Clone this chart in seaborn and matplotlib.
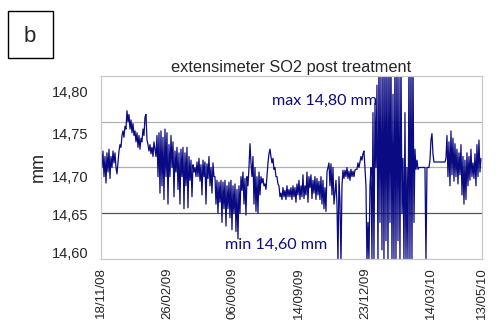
import numpy as np
import pandas as pd
import matplotlib.pyplot as plt
import matplotlib.patches as patches
import matplotlib.transforms as mtransforms
import seaborn as sns

# extensimeter readings (mm), one sample per step along the record
mm = [
    14.725, 14.700, 14.718, 14.690, 14.712, 14.683, 14.716, 14.695, 14.720, 14.688,
    14.712, 14.700, 14.718, 14.705, 14.716, 14.700, 14.693, 14.705, 14.718, 14.725,
    14.722, 14.735, 14.740, 14.733, 14.745, 14.742, 14.762, 14.750, 14.758, 14.742,
    14.752, 14.738, 14.748, 14.735, 14.740, 14.728, 14.738, 14.722, 14.735, 14.720,
    14.732, 14.728, 14.742, 14.735, 14.755, 14.758, 14.730, 14.725, 14.718, 14.725,
    14.715, 14.722, 14.712, 14.728, 14.720, 14.712, 14.735, 14.690, 14.738, 14.672,
    14.740, 14.680, 14.733, 14.665, 14.742, 14.690, 14.738, 14.660, 14.725, 14.690,
    14.735, 14.700, 14.728, 14.668, 14.718, 14.695, 14.722, 14.676, 14.716, 14.660,
    14.720, 14.690, 14.722, 14.655, 14.716, 14.680, 14.722, 14.656, 14.712, 14.686,
    14.708, 14.668, 14.703, 14.695, 14.700, 14.690, 14.706, 14.690, 14.710, 14.685,
    14.703, 14.670, 14.708, 14.690, 14.706, 14.660, 14.704, 14.688, 14.712, 14.680,
    14.700, 14.672, 14.705, 14.690, 14.690, 14.660, 14.686, 14.650, 14.684, 14.662,
    14.686, 14.640, 14.684, 14.655, 14.686, 14.636, 14.680, 14.655, 14.684, 14.645,
    14.686, 14.632, 14.680, 14.650, 14.682, 14.630, 14.676, 14.622, 14.680, 14.650,
    14.690, 14.675, 14.695, 14.660, 14.688, 14.648, 14.690, 14.680, 14.700, 14.726,
    14.705, 14.690, 14.712, 14.660, 14.700, 14.652, 14.690, 14.650, 14.695, 14.670,
    14.690, 14.683, 14.688, 14.680, 14.682, 14.676, 14.690, 14.705, 14.715, 14.720,
    14.712, 14.705, 14.710, 14.698, 14.700, 14.690, 14.690, 14.682, 14.680, 14.668,
    14.672, 14.665, 14.678, 14.668, 14.675, 14.665, 14.680, 14.668, 14.676, 14.668,
    14.678, 14.665, 14.680, 14.668, 14.678, 14.662, 14.682, 14.670, 14.686, 14.665,
    14.680, 14.668, 14.692, 14.666, 14.680, 14.670, 14.695, 14.662, 14.690, 14.678,
    14.692, 14.666, 14.686, 14.672, 14.690, 14.665, 14.688, 14.670, 14.685, 14.665,
    14.690, 14.660, 14.686, 14.655, 14.678, 14.652, 14.695, 14.700, 14.705, 14.680,
    14.704, 14.670, 14.700, 14.660, 14.672, 14.686, 14.660, 14.596, 14.690, 14.662,
    14.596, 14.680, 14.697, 14.688, 14.697, 14.690, 14.700, 14.688, 14.696, 14.686,
    14.698, 14.690, 14.696, 14.690, 14.697, 14.698, 14.698, 14.705, 14.700, 14.706,
    14.712, 14.708, 14.715, 14.718, 14.700, 14.680, 14.596, 14.640, 14.598, 14.680,
    14.700, 14.598, 14.760, 14.600, 14.770, 14.700, 14.790, 14.598, 14.822, 14.640,
    14.800, 14.610, 14.822, 14.598, 14.822, 14.620, 14.822, 14.598, 14.822, 14.640,
    14.822, 14.598, 14.780, 14.598, 14.822, 14.600, 14.822, 14.620, 14.800, 14.598,
    14.822, 14.650, 14.710, 14.598, 14.760, 14.598, 14.700, 14.598, 14.822, 14.598,
    14.822, 14.600, 14.822, 14.640, 14.720, 14.698, 14.708, 14.698, 14.700, 14.700,
    14.700, 14.700, 14.700, 14.700, 14.700, 14.598, 14.700, 14.700, 14.700, 14.708,
    14.730, 14.737, 14.715, 14.706, 14.706, 14.706, 14.706, 14.706, 14.706, 14.706,
    14.706, 14.706, 14.706, 14.706, 14.706, 14.710, 14.735, 14.690, 14.728, 14.680,
    14.740, 14.692, 14.732, 14.685, 14.726, 14.690, 14.720, 14.682, 14.716, 14.692,
    14.725, 14.670, 14.712, 14.660, 14.708, 14.665, 14.716, 14.680, 14.712, 14.686,
    14.720, 14.690, 14.705, 14.688, 14.715, 14.680, 14.725, 14.690, 14.730, 14.695,
    14.710,
]
sample = np.arange(len(mm))

date_labels = ["18/11/08", "26/02/09", "06/06/09", "14/09/09", "23/12/09", "14/03/10", "13/05/10"]
date_pos = [0, 66, 132, 198, 264, 330, 381]

y_ticks = [14.60, 14.65, 14.70, 14.75, 14.80]
y_labels = ["14,60", "14,65", "14,70", "14,75", "14,80"]

df = pd.DataFrame({"sample": sample, "mm": mm})

sns.set_style("white")
plt.rcParams["font.family"] = ["Liberation Sans", "DejaVu Sans"]

fig = plt.figure(figsize=(4.96, 3.22), dpi=100)
ax = fig.add_axes([0.2036, 0.1957, 0.7681, 0.5683])

navy = "#0a0a82"
for v, c in [(14.65, "#555555"), (14.70, "#b0b0b0"), (14.75, "#b0b0b0")]:
    ax.axhline(v, color=c, lw=0.9, zorder=0)

sns.lineplot(data=df, x="sample", y="mm", ax=ax, color=navy, lw=0.9)

ax.set_xlim(0, len(mm) - 1)
ax.set_ylim(14.60, 14.80)
ax.set_yticks(y_ticks)
ax.set_yticklabels(y_labels, fontsize=10.5)
ax.set_xticks(date_pos)
ax.set_xticklabels(date_labels, rotation=90, fontsize=9.5)
ax.tick_params(axis="x", length=0, pad=6)
ax.tick_params(axis="y", length=0, pad=9)
ax.set_xlabel("")
ax.set_ylabel("mm", fontsize=13, labelpad=4)
for s in ax.spines.values():
    s.set_color("#c8c8c8")
    s.set_linewidth(0.9)

# the original's value labels sit a little off their gridlines
for lab, dy in zip(ax.get_yticklabels(), [6, -1, -9, -12, -16]):
    lab.set_transform(lab.get_transform() +
                      mtransforms.ScaledTranslation(0, dy / 100, fig.dpi_scale_trans))

ax.set_title("extensimeter SO2 post treatment", fontsize=11.8, pad=3)

ax.text(171, 14.7725, "max 14,80 mm", color=navy, fontsize=11.6,
        family=["Lato", "DejaVu Sans"], va="center", ha="left")
ax.text(124, 14.615, "min 14,60 mm", color=navy, fontsize=11.6,
        family=["Lato", "DejaVu Sans"], va="center", ha="left")

fig.patches.append(patches.Rectangle((8 / 496, 1 - 58 / 322), 45 / 496, 47 / 322,
                                     transform=fig.transFigure, fill=False,
                                     edgecolor="black", lw=1))
fig.text(30 / 496, 1 - 36 / 322, "b", fontsize=16, ha="center", va="center")

fig.savefig("out.png", dpi=100)
